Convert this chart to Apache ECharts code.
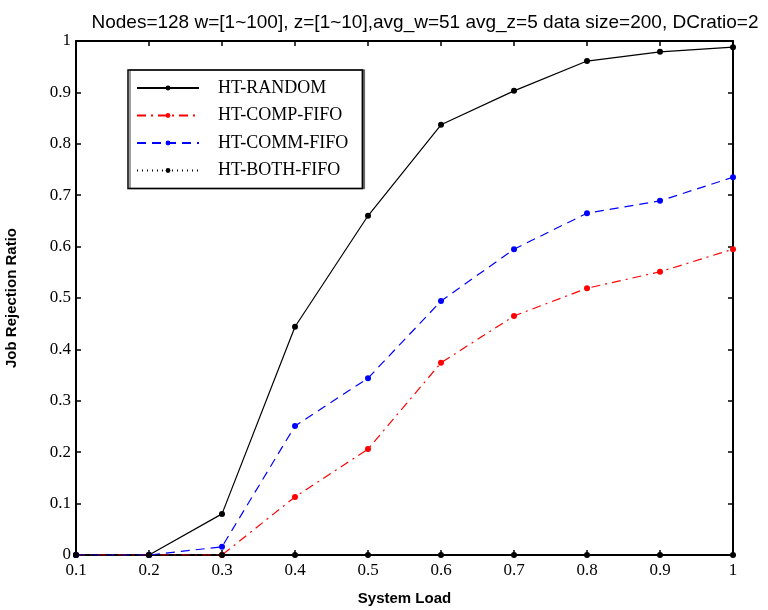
<!DOCTYPE html>
<html>
<head>
<meta charset="utf-8">
<script src="https://cdn.jsdelivr.net/npm/echarts@6/dist/echarts.min.js"></script>
<style>
  html, body { margin: 0; padding: 0; background: #fff; }
  #chart { width: 768px; height: 610px; }
</style>
</head>
<body>
<div id="chart"></div>
<script>
// System load levels (x) and job rejection ratio per scheduling policy
const systemLoad = [0.1, 0.2, 0.3, 0.4, 0.5, 0.6, 0.7, 0.8, 0.9, 1.0];
const htRandom   = [0, 0, 0.080, 0.444, 0.660, 0.837, 0.903, 0.961, 0.979, 0.988];
const htCompFifo = [0, 0, 0, 0.113, 0.206, 0.374, 0.465, 0.519, 0.551, 0.595];
const htCommFifo = [0, 0, 0.016, 0.251, 0.344, 0.494, 0.595, 0.665, 0.689, 0.735];
const htBothFifo = [0, 0, 0, 0, 0, 0, 0, 0, 0, 0];
const seriesNames = ['HT-RANDOM', 'HT-COMP-FIFO', 'HT-COMM-FIFO', 'HT-BOTH-FIFO'];
const titleText = 'Nodes=128 w=[1~100], z=[1~10],avg_w=51 avg_z=5 data size=200, DCratio=2';

const pairs = ys => systemLoad.map((x, i) => [x, ys[i]]);
const serif = '"Liberation Serif", "Times New Roman", serif';
const sans = '"Liberation Sans", Arial, sans-serif';

const frameAxis = {
  axisLine: { show: true, onZero: false, lineStyle: { color: '#000', width: 2 } },
  axisTick: { show: true, inside: true, length: 5, lineStyle: { color: '#000', width: 1.5 } },
  splitLine: { show: false }
};

const chart = echarts.init(document.getElementById('chart'), null, { renderer: 'canvas' });

function mkSeries(name, data, color, dash) {
  return {
    name, type: 'line', data: pairs(data),
    symbol: 'circle', symbolSize: 6, showSymbol: true,
    itemStyle: { color },
    lineStyle: { color, width: 1.2, type: dash },
    emphasis: { disabled: true },
    animation: false
  };
}

chart.setOption({
  backgroundColor: '#fff',
  animation: false,
  title: {
    text: titleText,
    left: 420, top: 8, textAlign: 'center',
    textStyle: { fontFamily: sans, fontSize: 19, fontWeight: 'normal', color: '#000' }
  },
  grid: { left: 76, right: 35, top: 41, bottom: 55, containLabel: false, outerBoundsMode: 'none' },
  legend: {
    left: 128, top: 70, orient: 'vertical',
    data: seriesNames,
    itemWidth: 62, itemHeight: 6, itemGap: 9.5,
    padding: [9, 14, 9, 8],
    borderColor: '#000', borderWidth: 1.5,
    backgroundColor: '#fff',
    shadowColor: 'rgba(0,0,0,0.5)', shadowOffsetX: 2, shadowBlur: 0,
    textStyle: { fontFamily: serif, fontSize: 18, color: '#000', padding: [0, 0, 0, 14] }
  },
  xAxis: [
    Object.assign({}, frameAxis, {
      type: 'value', position: 'bottom', min: 0.1, max: 1, interval: 0.1,
      name: 'System Load', nameLocation: 'middle', nameGap: 36,
      nameTextStyle: { fontFamily: sans, fontSize: 15, fontWeight: 'bold', color: '#000' },
      axisLabel: { fontFamily: serif, fontSize: 17, color: '#000', margin: 7,
        formatter: v => String(Math.round(v * 10) / 10) }
    }),
    Object.assign({}, frameAxis, {
      type: 'value', position: 'top', min: 0.1, max: 1, interval: 0.1,
      axisLabel: { show: false }
    })
  ],
  yAxis: [
    Object.assign({}, frameAxis, {
      type: 'value', position: 'left', min: 0, max: 1, interval: 0.1,
      name: 'Job Rejection Ratio', nameLocation: 'middle', nameGap: 57,
      nameTextStyle: { fontFamily: sans, fontSize: 15, fontWeight: 'bold', color: '#000' },
      axisLabel: { fontFamily: serif, fontSize: 17, color: '#000', margin: 5,
        formatter: v => String(Math.round(v * 10) / 10) }
    }),
    Object.assign({}, frameAxis, {
      type: 'value', position: 'right', min: 0, max: 1, interval: 0.1,
      axisLabel: { show: false }
    })
  ],
  series: [
    mkSeries('HT-RANDOM', htRandom, '#000000', 'solid'),
    mkSeries('HT-COMP-FIFO', htCompFifo, '#ff0000', [9, 5, 2, 5]),
    mkSeries('HT-COMM-FIFO', htCommFifo, '#0000ff', [9, 6]),
    mkSeries('HT-BOTH-FIFO', htBothFifo, '#000000', [1, 4])
  ]
});
</script>
</body>
</html>
